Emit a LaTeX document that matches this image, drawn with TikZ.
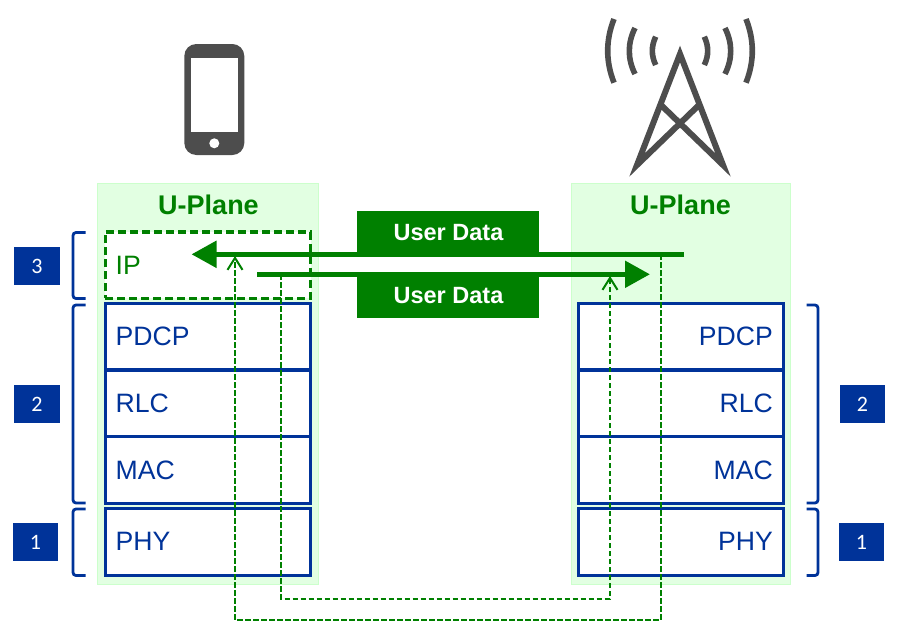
\documentclass[tikz,border=0pt]{standalone}
\usepackage{fontspec}
\setmainfont{Liberation Sans}
\newfontfamily\digitfont{Carlito}
\usetikzlibrary{arrows.meta}
\definecolor{leaf}{HTML}{008000}
\definecolor{navy}{HTML}{003399}
\definecolor{mint}{HTML}{E2FFE2}
\definecolor{mintedge}{HTML}{CCFFCC}
\definecolor{slate}{HTML}{4D4D4D}
\tikzset{
  panel/.style={rectangle,draw=mintedge,fill=mint,line width=1pt,outer sep=0pt,inner sep=0pt,minimum width=#1,minimum height=401pt},
  layerbox/.style={rectangle,draw=navy,fill=white,line width=3.3pt,outer sep=0pt,inner sep=0pt,minimum width=#1},
  layername/.style={inner sep=0pt,font=\fontsize{26.6}{26}\selectfont,text=navy},
  planetitle/.style={inner sep=0pt,font=\bfseries\fontsize{27}{27}\selectfont,text=leaf,anchor=base},
  databar/.style={rectangle,fill=leaf,text=white,inner sep=0pt,outer sep=0pt,minimum width=182pt,minimum height=43pt,font=\bfseries\fontsize{23.5}{24}\selectfont},
  badge/.style={rectangle,fill=navy,text=white,inner sep=0pt,outer sep=0pt,minimum width=45.5pt,minimum height=38pt,font=\digitfont\fontsize{22}{22}\selectfont},
  brace/.style={draw=navy,line width=2.8pt,rounded corners=3pt},
  flow/.style={draw=leaf,line width=5.2pt,-{Triangle[length=25pt,width=26pt]}},
  trace/.style={draw=leaf,line width=2.3pt,dash pattern=on 5.5pt off 2.5pt,-{Straight Barb[length=12pt,width=15pt,line width=2pt]}},
  wave/.style={draw=slate,line width=5.6pt},
}
\begin{document}
\begin{tikzpicture}[x=1pt,y=-1pt]
\useasboundingbox (0,0) rectangle (900,640);

% handset
\fill[slate,rounded corners=12pt] (184.3,44) rectangle (244.3,155);
\fill[white] (191,58.3) rectangle (237.7,131.7);
\fill[white] (214.3,143.3) circle (5pt);

% mast and radio waves
\draw[draw=slate,line width=6pt,line join=miter,miter limit=10]
  (660,104) -- (723,165) -- (680,54) -- (637,165) -- (700,104);
\foreach \s in {-1,1}{
  \draw[wave] (680+\s*66,19) .. controls (680+\s*74.4,40.2) and (680+\s*74.4,61.5) .. (680+\s*66,82.7);
  \draw[wave] (680+\s*45,28) .. controls (680+\s*52.6,43.3) and (680+\s*52.6,58.7) .. (680+\s*45,74);
  \draw[wave] (680+\s*24.3,36.7) .. controls (680+\s*28.8,46.1) and (680+\s*28.8,55.6) .. (680+\s*24.3,65);
}

% user-plane panels
\node[panel=221.5pt] (leftpanel) at (207.9,384) {};
\node[panel=219pt] (rightpanel) at (681,384) {};
\node[planetitle] (lefttitle) at (208.5,214) {U-Plane};
\node[planetitle] (righttitle) at (680.5,214) {U-Plane};

% left protocol stack
\node[layerbox=205pt,minimum height=67pt] (lpdcp) at (208,337) {};
\node[layerbox=205pt,minimum height=67pt] (lrlc) at (208,403.5) {};
\node[layerbox=205pt,minimum height=67pt] (lmac) at (208,470) {};
\node[layerbox=205pt,minimum height=67pt] (lphy) at (208,542) {};
\node[rectangle,draw=leaf,fill=white,line width=3.2pt,dash pattern=on 8pt off 4pt,outer sep=0pt,inner sep=0pt,minimum width=205.2pt,minimum height=66.3pt] (lip) at (208,265.2) {};

% right protocol stack
\node[layerbox=204.8pt,minimum height=67pt] (rpdcp) at (680.9,337) {};
\node[layerbox=204.8pt,minimum height=67pt] (rrlc) at (680.9,403.5) {};
\node[layerbox=204.8pt,minimum height=67pt] (rmac) at (680.9,470) {};
\node[layerbox=204.8pt,minimum height=67pt] (rphy) at (680.9,542) {};

% layer names
\node[layername,text=leaf,anchor=base west] (iplabel) at (115.5,274.5) {IP};
\node[layername,anchor=base west] (l1) at (115.5,345.5) {PDCP};
\node[layername,anchor=base west] (l2) at (115.5,412.5) {RLC};
\node[layername,anchor=base west] (l3) at (115.5,479.5) {MAC};
\node[layername,anchor=base west] (l4) at (115.5,550.5) {PHY};
\node[layername,anchor=base east] (r1) at (773,345.5) {PDCP};
\node[layername,anchor=base east] (r2) at (773,412.5) {RLC};
\node[layername,anchor=base east] (r3) at (773,479.5) {MAC};
\node[layername,anchor=base east] (r4) at (773,550.5) {PHY};

% user data labels
\node[databar] (dataup) at (448,232.5) {\hspace{1pt}\raisebox{-2pt}{User Data}};
\node[databar] (datadown) at (448,296) {\hspace{1pt}\raisebox{-2.3pt}{User Data}};

% data flow
\coordinate (flowAstart) at (684,254.3);
\coordinate (flowAend) at (191.5,254.3);
\coordinate (flowBstart) at (257,274.3);
\coordinate (flowBend) at (650,274.3);
\coordinate (traceAstart) at (661,254.3);
\coordinate (traceAend) at (235,256);
\coordinate (traceBstart) at (281,274.3);
\coordinate (traceBend) at (610,276);
\draw[trace] (traceAstart) -- (661,620) -- (235,620) -- (traceAend);
\draw[trace] (traceBstart) -- (281,598.7) -- (610,598.7) -- (traceBend);
\draw[flow] (flowAstart) -- (flowAend);
\draw[flow] (flowBstart) -- (flowBend);

% layer brackets
\draw[brace] (85.7,232.5) -- (73,232.5) -- (73,298.5) -- (85.7,298.5);
\draw[brace] (85.7,305) -- (73,305) -- (73,503) -- (85.7,503);
\draw[brace] (85.7,509) -- (73,509) -- (73,575.5) -- (85.7,575.5);
\draw[brace] (806.7,305) -- (818,305) -- (818,503) -- (806.7,503);
\draw[brace] (806.7,509) -- (818,509) -- (818,575.5) -- (806.7,575.5);

% layer numbers
\node[badge] (b3) at (37,266) {3};
\node[badge] (b2) at (37,404) {2};
\node[badge] (b1) at (35.5,542) {1};
\node[badge] (b2r) at (862.5,404) {2};
\node[badge] (b1r) at (861.5,542) {1};
\end{tikzpicture}
\end{document}
